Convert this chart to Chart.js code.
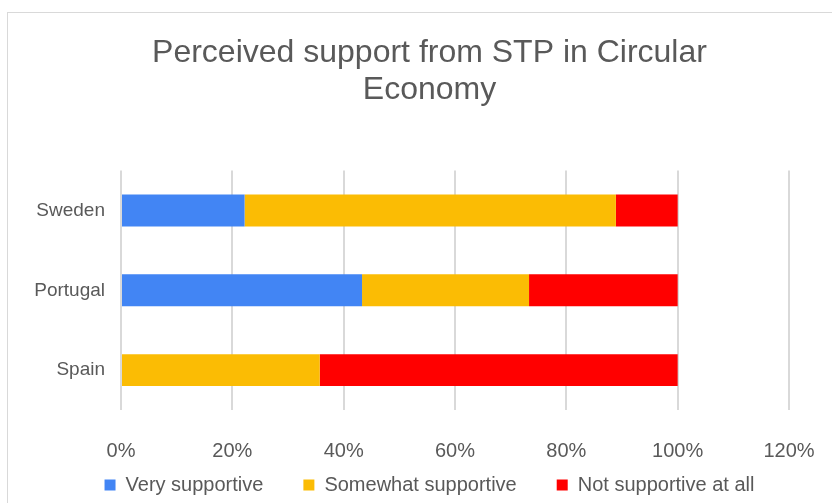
<!DOCTYPE html>
<html>
<head>
<meta charset="utf-8">
<script src="https://cdn.jsdelivr.net/npm/chart.js@4"></script>
<style>
  html, body { margin: 0; padding: 0; background: #fff; overflow: hidden; }
  #frame {
    position: absolute; left: 7px; top: 12px;
    width: 843px; height: 500px;
    border: 1px solid #d9d9d9; background: #fff;
  }
  #frame canvas { display: block; }
</style>
</head>
<body>
<div id="frame"><canvas id="supportChart" width="843" height="500"></canvas></div>
<script>
// countries and share of answers (percent)
var countries = ['Sweden', 'Portugal', 'Spain'];
var verySupportive = [22.2, 43.3, 0];
var somewhatSupportive = [66.7, 30.0, 35.7];
var notSupportive = [11.1, 26.7, 64.3];
var seriesNames = ['Very supportive', 'Somewhat supportive', 'Not supportive at all'];
var axisMax = 120;

var textGrey = '#595959';
var fontFace = '"Liberation Sans", Arial, sans-serif';

var ctx = document.getElementById('supportChart');

var chart = new Chart(ctx, {
    type: 'bar',
    data: {
        labels: countries,
        datasets: [{
            label: seriesNames[0],
            data: verySupportive,
            backgroundColor: '#4285F4'
        }, {
            label: seriesNames[1],
            data: somewhatSupportive,
            backgroundColor: '#FBBC04'
        }, {
            label: seriesNames[2],
            data: notSupportive,
            backgroundColor: '#FF0000'
        }]
    },
    options: {
        indexAxis: 'y',
        responsive: false,
        animation: false,
        devicePixelRatio: 1,
        categoryPercentage: 0.8,
        barPercentage: 0.5,
        borderWidth: 0,
        layout: {
            padding: { left: 0, right: 0, top: 0, bottom: 8 }
        },
        scales: {
            x: {
                stacked: true,
                min: 0,
                max: axisMax,
                grid: { color: '#d9d9d9', lineWidth: 2, drawTicks: false },
                border: { display: false },
                ticks: {
                    stepSize: 20,
                    padding: 29,
                    color: textGrey,
                    font: { family: fontFace, size: 20 },
                    callback: function (v) { return v + '%'; }
                },
                afterFit: function (scale) {
                    // short axis box so the legend sits close; labels may hang below it
                    scale.height = 25;
                    scale.paddingRight = 62;
                    scale._computeLabelArea = function () { return null; };
                }
            },
            y: {
                stacked: true,
                grid: { display: false, drawTicks: false },
                border: { display: false },
                ticks: {
                    padding: 16,
                    color: textGrey,
                    font: { family: fontFace, size: 19 }
                },
                afterFit: function (scale) { scale.width = 113; }
            }
        },
        plugins: {
            title: {
                display: true,
                text: ['Perceived support from STP in Circular', 'Economy'],
                color: textGrey,
                font: { family: fontFace, size: 32, weight: 'normal', lineHeight: 1.15 },
                padding: { top: 22, bottom: 62 }
            },
            legend: {
                position: 'bottom',
                onClick: function () {},
                labels: {
                    color: textGrey,
                    font: { family: fontFace, size: 20 },
                    boxWidth: 11,
                    boxHeight: 11,
                    padding: 40
                }
            },
            tooltip: { enabled: false }
        }
    }
});
</script>
</body>
</html>
